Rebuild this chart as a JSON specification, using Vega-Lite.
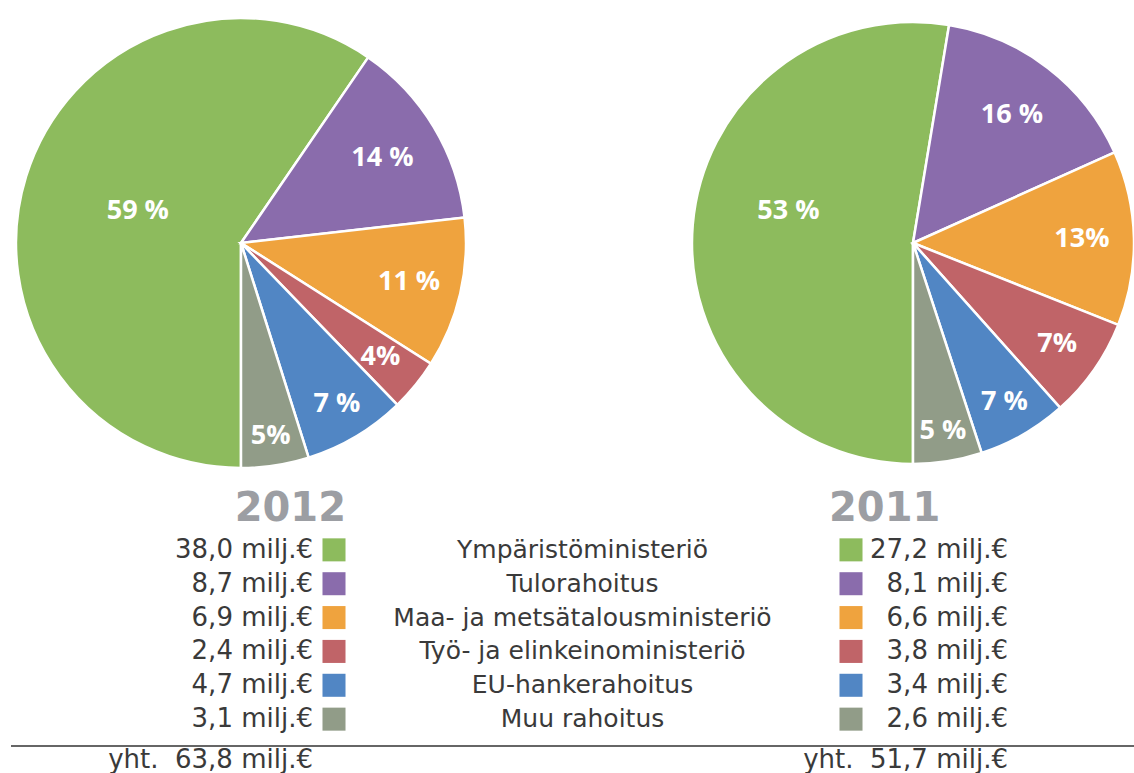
{
  "$schema": "https://vega.github.io/schema/vega-lite/v6.json",
  "padding": {"left": 10, "top": 13, "right": 0, "bottom": 0},
  "background": "white",
  "config": {"view": {"stroke": null}, "text": {"font": "DejaVu Sans"}},
  "datasets": {
    "d": [
      {"year": "2012", "category": "Ympäristöministeriö", "value": 38.0, "label": "59 %", "i": 1},
      {"year": "2012", "category": "Tulorahoitus", "value": 8.7, "label": "14 %", "i": 2},
      {"year": "2012", "category": "Maa- ja metsätalousministeriö", "value": 6.9, "label": "11 %", "i": 3},
      {"year": "2012", "category": "Työ- ja elinkeinoministeriö", "value": 2.4, "label": "4%", "i": 4},
      {"year": "2012", "category": "EU-hankerahoitus", "value": 4.7, "label": "7 %", "i": 5},
      {"year": "2012", "category": "Muu rahoitus", "value": 3.1, "label": "5%", "i": 6},
      {"year": "2011", "category": "Ympäristöministeriö", "value": 27.2, "label": "53 %", "i": 1},
      {"year": "2011", "category": "Tulorahoitus", "value": 8.1, "label": "16 %", "i": 2},
      {"year": "2011", "category": "Maa- ja metsätalousministeriö", "value": 6.6, "label": "13%", "i": 3},
      {"year": "2011", "category": "Työ- ja elinkeinoministeriö", "value": 3.8, "label": "7%", "i": 4},
      {"year": "2011", "category": "EU-hankerahoitus", "value": 3.4, "label": "7 %", "i": 5},
      {"year": "2011", "category": "Muu rahoitus", "value": 2.6, "label": "5 %", "i": 6}
    ]
  },
  "spacing": 9,
  "vconcat": [
    {
      "bounds": "flush",
      "hconcat": [
        {
          "width": 460, "height": 458,
          "data": {"name": "d"},
          "transform": [{"filter": "datum.year == '2012'"}],
          "encoding": {
            "theta": {"field": "value", "type": "quantitative", "stack": true, "scale": {"range": [3.14159265, 9.42477796]}},
            "order": {"field": "i", "type": "quantitative"}
          },
          "layer": [
            {
              "mark": {"type": "arc", "outerRadius": 225, "stroke": "white", "strokeWidth": 2.5},
              "encoding": {
                "color": {"field": "category", "type": "nominal", "legend": null,
                  "scale": {"domain": ["Ympäristöministeriö", "Tulorahoitus", "Maa- ja metsätalousministeriö", "Työ- ja elinkeinoministeriö", "EU-hankerahoitus", "Muu rahoitus"],
                            "range": ["#8dbb5d", "#8a6cac", "#efa33e", "#c06468", "#5186c4", "#919c88"]}}
              }
            },
            {
              "mark": {"type": "text", "font": "Open Sans", "fontWeight": "bold", "fontSize": 27, "color": "white", "align": "center", "baseline": "middle"},
              "encoding": {
                "detail": {"field": "category", "type": "nominal"},
                "text": {"field": "label", "type": "nominal"},
                "radius": {"value": {"expr": "datum.value > 20 ? 108 : 150 + 7.5 * datum.i"}}
              }
            }
          ]
        },
        {
          "width": 444, "height": 458,
          "data": {"name": "d"},
          "transform": [{"filter": "datum.year == '2011'"}],
          "encoding": {
            "theta": {"field": "value", "type": "quantitative", "stack": true, "scale": {"range": [3.14159265, 9.42477796]}},
            "order": {"field": "i", "type": "quantitative"}
          },
          "layer": [
            {
              "mark": {"type": "arc", "outerRadius": 221, "stroke": "white", "strokeWidth": 2.5},
              "encoding": {
                "color": {"field": "category", "type": "nominal", "legend": null}
              }
            },
            {
              "mark": {"type": "text", "font": "Open Sans", "fontWeight": "bold", "fontSize": 27, "color": "white", "align": "center", "baseline": "middle", "dy": {"expr": "datum.value > 20 ? -22 : 0"}},
              "encoding": {
                "detail": {"field": "category", "type": "nominal"},
                "text": {"field": "label", "type": "nominal"},
                "radius": {"value": {"expr": "datum.value > 20 ? 125 : 148 + 7 * datum.i"}}
              }
            }
          ]
        }
      ],
      "spacing": 220,
      "resolve": {"scale": {"theta": "independent"}}
    },
    {
      "width": 1124, "height": 293,
      "data": {"name": "d"},
      "layer": [
        {
          "mark": {"type": "point", "shape": "square", "filled": true, "size": 530, "opacity": 1},
          "encoding": {
            "x": {"field": "year", "type": "nominal", "axis": null, "scale": {"type": "point", "domain": ["2012", "mid", "2011"], "range": [323, 840], "padding": 0}},
            "y": {"field": "category", "type": "nominal", "axis": null, "scale": {"type": "point", "domain": ["_year", "Ympäristöministeriö", "Tulorahoitus", "Maa- ja metsätalousministeriö", "Työ- ja elinkeinoministeriö", "EU-hankerahoitus", "Muu rahoitus", "_total"], "range": [34, 271], "padding": 0}},
            "color": {"field": "category", "type": "nominal", "legend": null}
          }
        },
        {
          "transform": [{"filter": "datum.year == '2012'"}, {"calculate": "replace(format(datum.value, '.1f'), '.', ',') + ' milj.€'", "as": "txt"}],
          "mark": {"type": "text", "align": "right", "baseline": "middle", "dx": -21, "fontSize": 26, "color": "#3a3a3a"},
          "encoding": {
            "x": {"field": "year", "type": "nominal"},
            "y": {"field": "category", "type": "nominal"},
            "text": {"field": "txt", "type": "nominal"}
          }
        },
        {
          "transform": [{"filter": "datum.year == '2011'"}, {"calculate": "replace(format(datum.value, '.1f'), '.', ',') + ' milj.€'", "as": "txt"}],
          "mark": {"type": "text", "align": "right", "baseline": "middle", "dx": 157, "fontSize": 26, "color": "#3a3a3a"},
          "encoding": {
            "x": {"field": "year", "type": "nominal"},
            "y": {"field": "category", "type": "nominal"},
            "text": {"field": "txt", "type": "nominal"}
          }
        },
        {
          "transform": [{"filter": "datum.year == '2012'"}],
          "mark": {"type": "text", "align": "center", "baseline": "middle", "dx": -10, "fontSize": 25, "color": "#3a3a3a"},
          "encoding": {
            "x": {"datum": "mid", "type": "nominal"},
            "y": {"field": "category", "type": "nominal"},
            "text": {"field": "category", "type": "nominal"}
          }
        },
        {
          "transform": [{"filter": "datum.year == '2012'"}, {"aggregate": [{"op": "count", "as": "n"}], "groupby": ["year"]}],
          "mark": {"type": "text", "align": "right", "baseline": "middle", "dx": 12, "dy": -7, "fontSize": 40, "fontWeight": "bold", "color": "#9c9ea3"},
          "encoding": {
            "x": {"field": "year", "type": "nominal"},
            "y": {"datum": "_year", "type": "nominal"},
            "text": {"field": "year", "type": "nominal"}
          }
        },
        {
          "transform": [{"filter": "datum.year == '2011'"}, {"aggregate": [{"op": "count", "as": "n"}], "groupby": ["year"]}],
          "mark": {"type": "text", "align": "left", "baseline": "middle", "dx": -22, "dy": -7, "fontSize": 40, "fontWeight": "bold", "color": "#9c9ea3"},
          "encoding": {
            "x": {"field": "year", "type": "nominal"},
            "y": {"datum": "_year", "type": "nominal"},
            "text": {"field": "year", "type": "nominal"}
          }
        },
        {
          "data": {"values": [{}]},
          "mark": {"type": "rule", "color": "#666666", "strokeWidth": 2, "yOffset": -7},
          "encoding": {
            "y": {"datum": "_total", "type": "nominal"},
            "x": {"value": 0},
            "x2": {"value": "width"}
          }
        },
        {
          "transform": [{"filter": "datum.year == '2012'"}, {"aggregate": [{"op": "sum", "field": "value", "as": "tot"}], "groupby": ["year"]}, {"calculate": "'yht.\u00a0\u00a0' + replace(format(datum.tot, '.1f'), '.', ',') + ' milj.€'", "as": "txt"}],
          "mark": {"type": "text", "align": "right", "baseline": "middle", "dx": -21, "dy": 7, "fontSize": 26, "color": "#3a3a3a"},
          "encoding": {
            "x": {"field": "year", "type": "nominal"},
            "y": {"datum": "_total", "type": "nominal"},
            "text": {"field": "txt", "type": "nominal"}
          }
        },
        {
          "transform": [{"filter": "datum.year == '2011'"}, {"aggregate": [{"op": "sum", "field": "value", "as": "tot"}], "groupby": ["year"]}, {"calculate": "'yht.\u00a0\u00a0' + replace(format(datum.tot, '.1f'), '.', ',') + ' milj.€'", "as": "txt"}],
          "mark": {"type": "text", "align": "right", "baseline": "middle", "dx": 157, "dy": 7, "fontSize": 26, "color": "#3a3a3a"},
          "encoding": {
            "x": {"field": "year", "type": "nominal"},
            "y": {"datum": "_total", "type": "nominal"},
            "text": {"field": "txt", "type": "nominal"}
          }
        }
      ]
    }
  ]
}
